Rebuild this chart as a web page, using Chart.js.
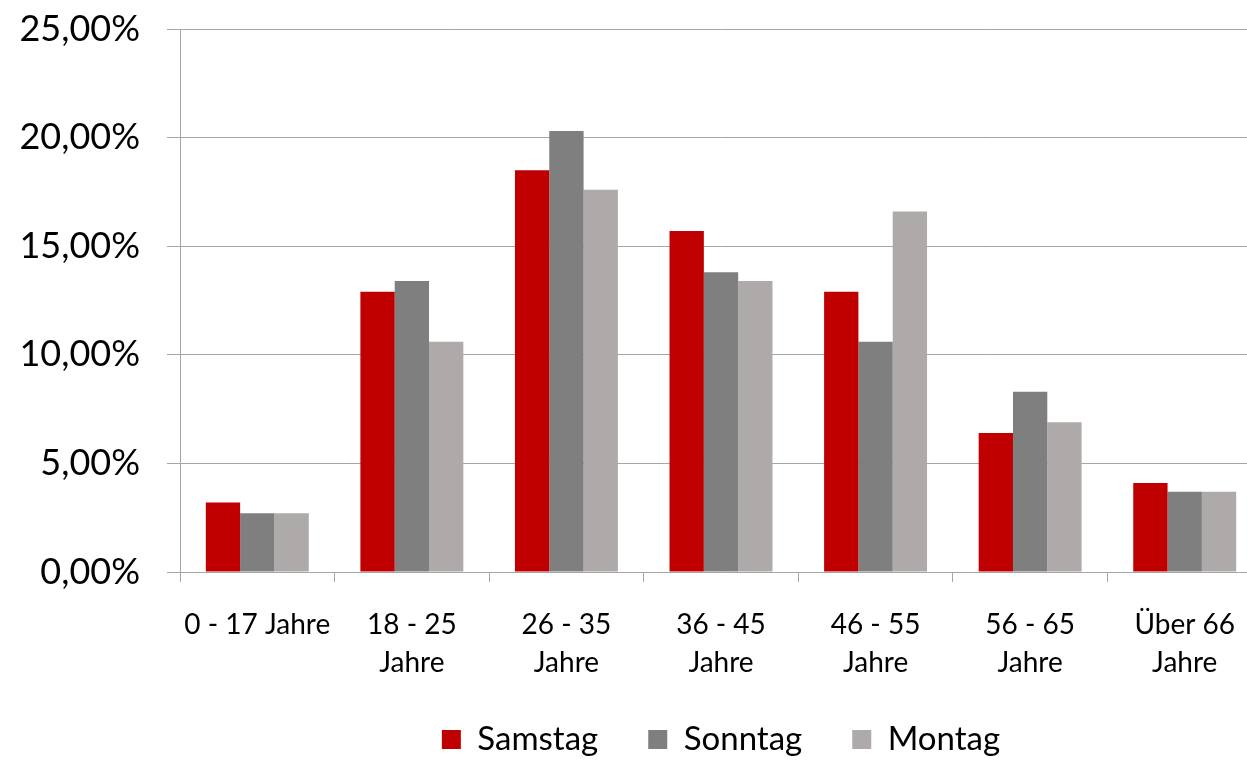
<!DOCTYPE html>
<html>
<head>
<meta charset="utf-8">
<script src="https://cdn.jsdelivr.net/npm/chart.js@4"></script>
<style>
html,body{margin:0;padding:0;overflow:hidden;background:#fff;width:1247px;height:760px;}
#wrap{position:absolute;left:0;top:0;width:1262px;height:760px;}
</style>
</head>
<body>
<div id="wrap"><canvas id="c"></canvas></div>
<script>
const categories = ["0 - 17 Jahre", ["18 - 25", "Jahre"], ["26 - 35", "Jahre"], ["36 - 45", "Jahre"], ["46 - 55", "Jahre"], ["56 - 65", "Jahre"], ["Über 66", "Jahre"]];
const samstag = [3.2, 12.9, 18.5, 15.7, 12.9, 6.4, 4.1];
const sonntag = [2.7, 13.4, 20.3, 13.8, 10.6, 8.3, 3.7];
const montag  = [2.7, 10.6, 17.6, 13.4, 16.6, 6.9, 3.7];
const yTicks = [0, 5, 10, 15, 20, 25];

const FONT = "Lato";

const legendSize = {
  id: 'legendSize',
  afterInit(chart) {
    const lg = chart.legend;
    if (!lg) return;
    const f = lg.fit;
    lg.fit = function () { f.call(this); this.height = 87; };
  }
};

new Chart(document.getElementById('c'), {
  type: 'bar',
  data: {
    labels: categories,
    datasets: [
      { label: 'Samstag', data: samstag, backgroundColor: '#C00000', borderWidth: 0 },
      { label: 'Sonntag', data: sonntag, backgroundColor: '#7F7F7F', borderWidth: 0 },
      { label: 'Montag',  data: montag,  backgroundColor: '#AEAAAA', borderWidth: 0 }
    ]
  },
  options: {
    responsive: true,
    maintainAspectRatio: false,
    animation: false,
    datasets: { bar: { categoryPercentage: 0.666, barPercentage: 1.0 } },
    layout: { padding: { top: 29, left: 0, right: 0, bottom: 0 } },
    plugins: {
      tooltip: { enabled: false },
      legend: {
        position: 'bottom',
        fullSize: false,
        labels: {
          font: { family: FONT, size: 33 },
          color: '#000',
          boxWidth: 19,
          boxHeight: 19,
          padding: 50
        }
      }
    },
    scales: {
      x: {
        offset: true,
        grid: { display: true, drawOnChartArea: false, drawTicks: true, tickLength: 10, color: '#A6A6A6', offset: true },
        border: { display: true, color: '#A6A6A6', width: 1 },
        ticks: { font: { family: FONT, size: 28, lineHeight: 1.36 }, color: '#000', padding: 24, maxRotation: 0, autoSkip: false },
        afterFit(s) { s.height = 101; s.paddingLeft = 0; s.paddingRight = 0; }
      },
      y: {
        min: 0, max: 25,
        afterBuildTicks(s) { s.ticks = yTicks.map(v => ({ value: v })); },
        grid: { color: '#A6A6A6', lineWidth: 1, drawTicks: true, tickLength: 13 },
        border: { display: true, color: '#A6A6A6', width: 1 },
        ticks: {
          font: { family: FONT, size: 36 }, color: '#000', padding: 27,
          callback: v => v.toFixed(2).replace('.', ',') + '%'
        },
        afterFit(s) { s.width = 180; s.paddingTop = 0; s.paddingBottom = 0; }
      }
    }
  },
  plugins: [legendSize]
});
</script>
</body>
</html>
